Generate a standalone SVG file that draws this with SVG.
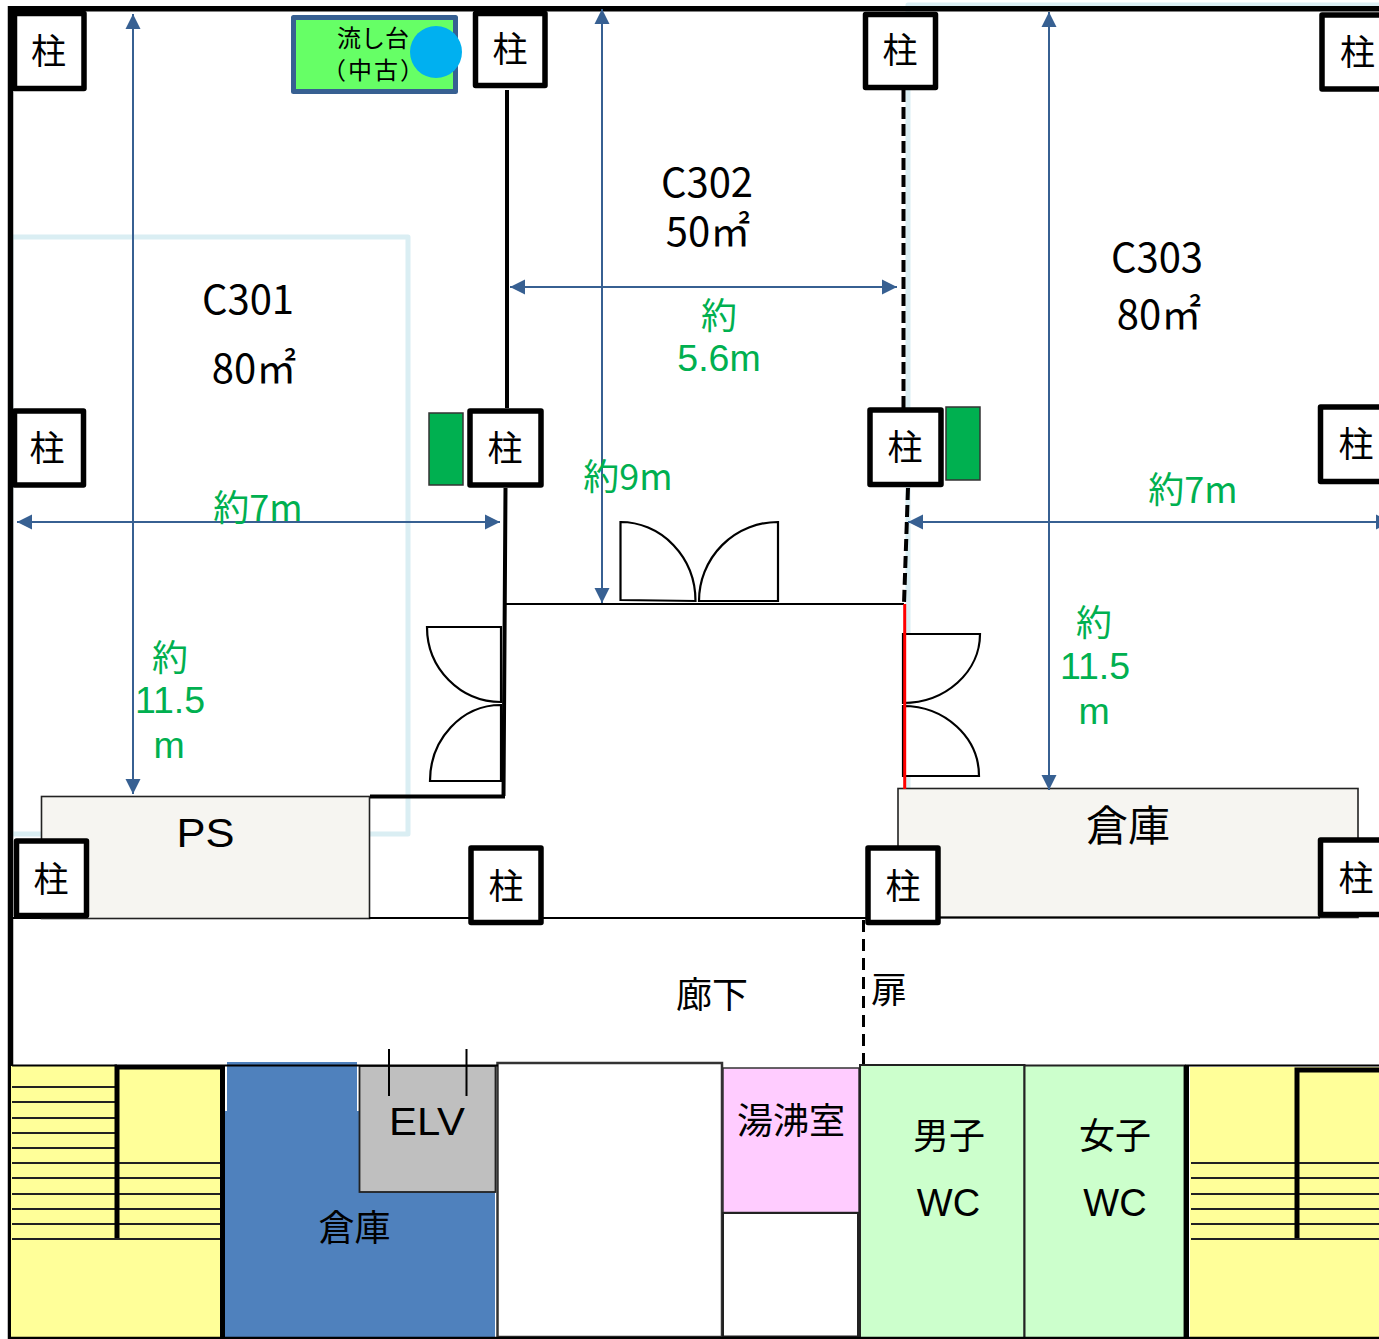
<svg xmlns="http://www.w3.org/2000/svg" width="1379" height="1339" viewBox="0 0 1379 1339">
<style>
text{font-family:"Noto Sans CJK JP","Liberation Sans",sans-serif;fill:#000;text-anchor:middle}
.lat{font-family:"Liberation Sans",sans-serif}
.room{font-size:36px}
.rl{font-size:40px}
.g{fill:#00B050;font-size:36px}
.gl{fill:#00B050;font-size:37.500px;font-family:"Liberation Sans",sans-serif}
.p{fill:#fff;stroke:#000;stroke-width:5.500;stroke-linejoin:round}
.pt{font-size:35px}
.w{fill:none;stroke:#000}
.door{fill:#fff;stroke:#000;stroke-width:2.200}
.arrow{fill:none;stroke:#376092;stroke-width:2;marker-start:url(#ah);marker-end:url(#ah)}
.light{fill:none;stroke:#DAEEF3;stroke-width:5;stroke-linejoin:round}
.step{stroke:#222;stroke-width:2;fill:none}
.cab{fill:#00B050;stroke:#333;stroke-width:1.500}
.store{fill:#F6F5F1;stroke:#222;stroke-width:1.600}
</style>
<defs>
<marker id="ah" markerUnits="userSpaceOnUse" markerWidth="16" markerHeight="16" refX="15" refY="8" orient="auto-start-reverse"><path d="M0 0.500L15 8L0 15.500Z" fill="#376092"/></marker>
</defs>
<rect width="1379" height="1339" fill="#fff"/>
<g id="underlay">
<rect class="light" x="11" y="237" width="397" height="597"/>
<path class="light" d="M1385 5H908V789"/>
</g>
<g id="stores">
<g id="ps"><rect class="store" x="41.500" y="796.500" width="328" height="122"/><text class="lat" x="205.500" y="847" font-size="40" textLength="58" lengthAdjust="spacingAndGlyphs">PS</text></g>
<g id="store-east"><rect class="store" x="898" y="788.500" width="460" height="129"/><text x="1128" y="841" font-size="42">倉庫</text></g>
</g>
<g id="walls">
<path class="w" stroke-width="5.500" d="M10.500 6V1339M8 8.700H1379"/>
<path class="w" stroke-width="4" d="M507 90V408M505.500 488L503.500 796M370 796.500H505"/>
<path class="w" stroke-width="2" d="M506 604H904M369 918H866M940 917.500H1320M13 918H41"/>
<path class="w" stroke-width="4" stroke-dasharray="12 5" d="M903.500 90V408M908 488L904 604"/>
<path class="w" stroke-width="3" stroke-dasharray="12 7" d="M863.500 920V1065"/>
</g>
<g id="doors">
<path class="door" d="M427 627H501V702A74 75 0 0 1 427 627Z"/>
<path class="door" d="M430 781H501V705A71 76 0 0 0 430 781Z"/>
<path class="door" d="M620.500 522V600L695.500 601A75 79 0 0 0 620.500 522Z"/>
<path class="door" d="M778 522V601H699A79 79 0 0 1 778 522Z"/>
<path class="door" d="M903 634H980A77 69 0 0 1 903 703Z"/>
<path class="door" d="M903 706A76 70 0 0 1 979 776H903Z"/>
<path fill="none" stroke="#FF0000" stroke-width="3" d="M904.700 604V789"/>
</g>
<g id="sink">
<rect x="293.500" y="17.500" width="162" height="74" fill="#66FF66" stroke="#376092" stroke-width="5" stroke-linejoin="round"/>
<text x="373" y="47" font-size="24">流し台</text>
<text x="374" y="79" font-size="24" letter-spacing="2">（中古）</text>
<circle cx="436" cy="52" r="26" fill="#00B0F0"/>
</g>
<g id="cabinets">
<rect class="cab" x="429" y="413" width="34" height="72"/>
<rect class="cab" x="946" y="407" width="34" height="73"/>
</g>
<g id="pillars">
<g id="p1"><rect class="p" x="14.500" y="13.500" width="69.500" height="75"/><text class="pt" x="48.500" y="64">柱</text></g>
<g id="p2"><rect class="p" x="475.500" y="13.500" width="69.500" height="72"/><text class="pt" x="510" y="62">柱</text></g>
<g id="p3"><rect class="p" x="865.500" y="14.500" width="70" height="73"/><text class="pt" x="900" y="63">柱</text></g>
<g id="p4"><rect class="p" x="1322" y="15" width="70" height="74"/><text class="pt" x="1357.500" y="65">柱</text></g>
<g id="p5"><rect class="p" x="14.500" y="411" width="69" height="74"/><text class="pt" x="47" y="461">柱</text></g>
<g id="p6"><rect class="p" x="470" y="411" width="71" height="74"/><text class="pt" x="505" y="461">柱</text></g>
<g id="p7"><rect class="p" x="870" y="410" width="71" height="74.500"/><text class="pt" x="905" y="460">柱</text></g>
<g id="p8"><rect class="p" x="1320.500" y="407" width="70" height="74.500"/><text class="pt" x="1356" y="457">柱</text></g>
<g id="p9"><rect class="p" x="16.500" y="841" width="70" height="74.500"/><text class="pt" x="51" y="892">柱</text></g>
<g id="p10"><rect class="p" x="471" y="848" width="70" height="74.500"/><text class="pt" x="506" y="899">柱</text></g>
<g id="p11"><rect class="p" x="868" y="848" width="70" height="74.500"/><text class="pt" x="903" y="899">柱</text></g>
<g id="p12"><rect class="p" x="1320.500" y="840" width="70" height="74.500"/><text class="pt" x="1356" y="891">柱</text></g>
</g>
<g id="core">
<g id="stair-west">
<rect x="11" y="1066" width="211" height="272" fill="#FFFF99"/>
<path class="step" d="M12 1087H116M12 1102H116M12 1118H116M12 1133H116M12 1148H116M12 1163H221M12 1178H221M12 1194H221M12 1209H221M12 1224H221M12 1239H221"/>
<path class="w" stroke-width="5" d="M117 1238V1067H222M222.500 1066V1339"/>
<path class="w" stroke-width="2" d="M12 1065.500H117"/>
</g>
<g id="store-west">
<path d="M225 1338V1111H227V1062H357V1111H359V1192H495V1338Z" fill="#4F81BD"/>
<path d="M226 1111V1066M358 1111V1066" stroke="#fff" stroke-width="2"/>
<text x="354.500" y="1241" class="room">倉庫</text>
</g>
<g id="elv">
<rect x="359.500" y="1066" width="136" height="126" fill="#BFBFBF" stroke="#222" stroke-width="1.800"/>
<path d="M389 1049V1096M466.500 1049V1096" stroke="#000" stroke-width="2"/>
<text class="lat" x="427" y="1135" font-size="38" textLength="76" lengthAdjust="spacingAndGlyphs">ELV</text>
</g>
<g id="room-blank"><rect x="497.500" y="1063" width="224.500" height="274" fill="#fff" stroke="#333" stroke-width="2.500"/></g>
<g id="boiler">
<rect x="723" y="1068" width="136" height="144.500" fill="#FFCCFF" stroke="#333" stroke-width="1.500"/>
<text x="791" y="1134" class="room">湯沸室</text>
<rect x="723" y="1213" width="135" height="123.500" fill="#fff" stroke="#222" stroke-width="2"/>
</g>
<g id="wc-m">
<rect x="860" y="1065" width="164.500" height="273" fill="#CCFFCC" stroke="#222" stroke-width="2"/>
<text x="949" y="1149" class="room">男子</text><text class="lat" x="948.500" y="1216" font-size="38">WC</text>
</g>
<g id="wc-f">
<rect x="1024.500" y="1065.500" width="160" height="272.500" fill="#CCFFCC" stroke="#222" stroke-width="2"/>
<text x="1115" y="1149" class="room">女子</text><text class="lat" x="1115" y="1216" font-size="38">WC</text>
</g>
<g id="stair-east">
<rect x="1190" y="1067" width="189" height="271" fill="#FFFF99"/>
<path class="step" d="M1191 1163H1379M1191 1178H1379M1191 1194H1379M1191 1209H1379M1191 1224H1379M1191 1239H1379"/>
<path class="w" stroke-width="5" d="M1297 1238V1070H1379"/>
<path class="w" stroke-width="5" d="M1186.500 1065V1339"/>
<path class="w" stroke-width="2" d="M1185 1065.500H1379"/>
</g>
<path class="w" stroke-width="2" d="M222 1065.500H498"/>
<path class="w" stroke-width="2.500" d="M11 1338H1379"/>
</g>
<g id="connectors">
<path class="arrow" d="M133 14V794"/>
<path class="arrow" d="M602 9V603"/>
<path class="arrow" d="M1049 12V790"/>
<path class="arrow" d="M510 287H897"/>
<path class="arrow" d="M17 522H500"/>
<path class="arrow" d="M908 522H1391"/>
</g>
<g id="labels">
<text x="248" y="314" class="rl">C301</text>
<text x="254" y="383" class="rl">80㎡</text>
<text x="707" y="197" class="rl">C302</text>
<text x="708" y="246" class="rl">50㎡</text>
<text x="1157" y="272" class="rl">C303</text>
<text x="1159" y="329" class="rl">80㎡</text>
<text x="719" y="329" class="g">約</text><text x="719" y="371" class="gl">5.6m</text>
<text x="628" y="490" class="g">約9m</text>
<text x="258" y="521" class="g">約7m</text>
<text x="1193" y="503" class="g">約7m</text>
<text x="170" y="671" class="g">約</text><text x="170" y="713" class="gl">11.5</text><text x="169" y="758" class="gl">m</text>
<text x="1094" y="636" class="g">約</text><text x="1095" y="679" class="gl">11.5</text><text x="1094" y="724" class="gl">m</text>
<text x="712" y="1008" class="room">廊下</text>
<text x="889" y="1003" class="room">扉</text>
</g>
</svg>
